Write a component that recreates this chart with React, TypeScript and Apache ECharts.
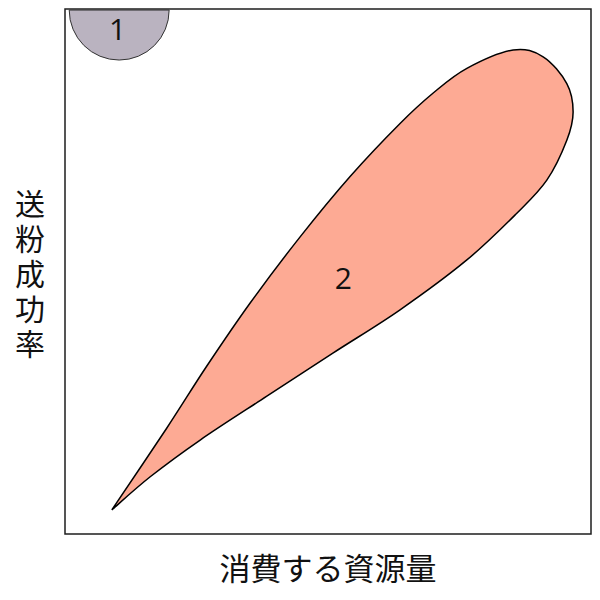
import React, { useEffect, useRef } from 'react';
import * as echarts from 'echarts';

// outline of region 2, traced clockwise from the pointed tip (data units 0..100)
const tearX = [8.9, 19.3, 26.9, 35.2, 44.7, 54.2, 63.7, 70.0, 76.4, 85.2, 90.9, 95.4, 96.6, 95.4, 91.6, 85.9, 76.4, 63.7, 51.0, 38.3, 25.7, 16.2, 8.9];
const tearY = [4.6, 20.1, 31.9, 44.0, 56.6, 68.1, 78.2, 84.0, 88.7, 92.2, 90.9, 85.8, 80.4, 75.0, 67.4, 61.1, 52.2, 42.7, 34.5, 26.2, 17.9, 10.9, 4.6];

// region 1: half disc hanging from the top edge
const discCenter = [10.3, 99.8];
const discRadius = 9.5;

const regionLabels = ['1', '2'];
const labelX = [10, 52.9];
const labelY = [96.2, 48.9];

const xName = '消費する資源量';
const yName = '送粉成功率';

function splinePath(pts: number[][]) {
  const n = pts.length;
  let d = `M${pts[0][0]},${pts[0][1]}`;
  for (let i = 0; i < n - 1; i++) {
    const p0 = pts[Math.max(i - 1, 0)];
    const p1 = pts[i];
    const p2 = pts[i + 1];
    const p3 = pts[Math.min(i + 2, n - 1)];
    const c1x = p1[0] + (p2[0] - p0[0]) / 6;
    const c1y = p1[1] + (p2[1] - p0[1]) / 6;
    const c2x = p2[0] - (p3[0] - p1[0]) / 6;
    const c2y = p2[1] - (p3[1] - p1[1]) / 6;
    d += ` C${c1x},${c1y} ${c2x},${c2y} ${p2[0]},${p2[1]}`;
  }
  return d + ' Z';
}

export default function App() {
  const elRef = useRef<HTMLDivElement>(null);

  useEffect(() => {
    if (!elRef.current) return;
    const chart = echarts.init(elRef.current, null, { renderer: 'svg' });

    const labelFont = {
      fontSize: 30,
      fontFamily: '"Open Sans", "Noto Sans", sans-serif',
      fill: '#111',
      align: 'center',
      verticalAlign: 'middle',
    };

    chart.setOption({
      animation: false,
      grid: {
        show: true,
        left: 65,
        top: 9,
        width: 526,
        height: 525,
        borderColor: '#1e1e1e',
        borderWidth: 1.5,
      },
      xAxis: {
        type: 'value',
        min: 0,
        max: 100,
        axisLine: { show: false },
        axisTick: { show: false },
        axisLabel: { show: false },
        splitLine: { show: false },
        name: xName,
        nameLocation: 'middle',
        nameGap: 17,
        nameTextStyle: {
          fontSize: 31,
          color: '#111',
          fontFamily: '"Noto Sans CJK JP", sans-serif',
        },
      },
      yAxis: {
        type: 'value',
        min: 0,
        max: 100,
        axisLine: { show: false },
        axisTick: { show: false },
        axisLabel: { show: false },
        splitLine: { show: false },
        name: yName.split('').join('\n'),
        nameLocation: 'middle',
        nameRotate: 0,
        nameGap: 20,
        nameTextStyle: {
          fontSize: 30,
          lineHeight: 35,
          color: '#111',
          fontFamily: '"Noto Sans CJK JP", sans-serif',
        },
      },
      series: [
        {
          type: 'custom',
          clip: true,
          data: [[0, 0]],
          renderItem: (_params: any, api: any) => {
            const pts = tearX.map((x, i) => api.coord([x, tearY[i]]));
            const c = api.coord(discCenter);
            const r = api.size([discRadius, 0])[0];
            return {
              type: 'group',
              children: [
                {
                  type: 'sector',
                  shape: { cx: c[0], cy: c[1], r0: 0, r, startAngle: 0, endAngle: Math.PI },
                  style: { fill: '#bab3c0', stroke: '#333', lineWidth: 1 },
                },
                {
                  type: 'path',
                  shape: { pathData: splinePath(pts) },
                  style: { fill: '#fdaa94', stroke: '#000', lineWidth: 1.5 },
                },
                ...regionLabels.map((t, i) => {
                  const p = api.coord([labelX[i], labelY[i]]);
                  return {
                    type: 'text',
                    x: p[0],
                    y: p[1],
                    style: { ...labelFont, text: t },
                  };
                }),
              ],
            };
          },
        },
      ],
    });

    return () => chart.dispose();
  }, []);

  return (
    <div
      ref={elRef}
      style={{ position: 'absolute', left: 0, top: 0, width: 600, height: 600 }}
    />
  );
}
